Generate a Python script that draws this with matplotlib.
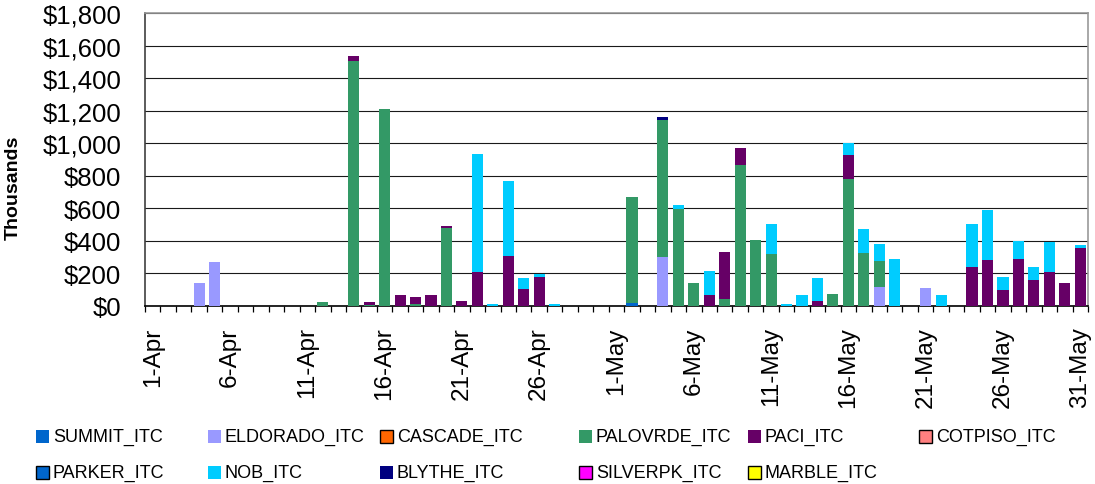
import numpy as np
import matplotlib
matplotlib.use("Agg")
import matplotlib.pyplot as plt
from matplotlib.patches import Rectangle

plt.rcParams['font.family'] = ['Liberation Sans', 'DejaVu Sans']

# Daily dates, 1-Apr through 31-May
apr = [f"{d}-Apr" for d in range(1, 31)]
may = [f"{d}-May" for d in range(1, 32)]
dates = apr + may
n = len(dates)


def series(entries):
    vals = [0.0] * n
    for label, v in entries.items():
        vals[dates.index(label)] = v
    return vals


# Values in thousands of dollars
summit = series({"2-May": 18})
eldorado = series({"4-Apr": 139, "5-Apr": 268, "4-May": 299, "18-May": 117,
                   "21-May": 105})
cascade = series({})
palovrde = series({"12-Apr": 20, "14-Apr": 1506, "15-Apr": 5, "16-Apr": 1211,
                   "18-Apr": 12, "20-Apr": 477, "2-May": 650, "4-May": 844,
                   "5-May": 593, "6-May": 136, "8-May": 37, "9-May": 866,
                   "10-May": 401, "11-May": 320, "15-May": 68, "16-May": 779,
                   "17-May": 321, "18-May": 155})
paci = series({"14-Apr": 31, "15-Apr": 15, "17-Apr": 65, "18-Apr": 40,
               "19-Apr": 65, "20-Apr": 13, "21-Apr": 25, "22-Apr": 206,
               "24-Apr": 305, "25-Apr": 100, "26-Apr": 173, "7-May": 62,
               "8-May": 290, "9-May": 104, "14-May": 25, "16-May": 147,
               "24-May": 235, "25-May": 280, "26-May": 93, "27-May": 284,
               "28-May": 155, "29-May": 204, "30-May": 136, "31-May": 357})
cotpiso = series({})
parker = series({})
nob = series({"22-Apr": 727, "23-Apr": 12, "24-Apr": 462, "25-Apr": 68,
              "26-Apr": 18, "27-Apr": 12, "5-May": 25, "7-May": 148,
              "11-May": 180, "12-May": 7, "13-May": 62, "14-May": 142,
              "16-May": 74, "17-May": 148, "18-May": 105, "19-May": 284,
              "22-May": 62, "24-May": 265, "25-May": 308, "26-May": 80,
              "27-May": 111, "28-May": 80, "29-May": 185, "31-May": 13})
blythe = series({"4-May": 17})
silverpk = series({})
marble = series({})

names = ["SUMMIT_ITC", "ELDORADO_ITC", "CASCADE_ITC", "PALOVRDE_ITC",
         "PACI_ITC", "COTPISO_ITC", "PARKER_ITC", "NOB_ITC", "BLYTHE_ITC",
         "SILVERPK_ITC", "MARBLE_ITC"]
data = [summit, eldorado, cascade, palovrde, paci, cotpiso, parker, nob,
        blythe, silverpk, marble]
colors = ["#0066CC", "#9999FF", "#FF6600", "#339966", "#660066", "#FF8080",
          "#0066CC", "#00CCFF", "#000080", "#FF00FF", "#FFFF00"]
boxed = [False, False, True, False, False, True, True, False, False, True, True]

W, H = 1095, 485
fig = plt.figure(figsize=(W / 100, H / 100), dpi=100)
ax = fig.add_axes([145 / W, (H - 306.5) / H, 943 / W, 292.2 / H])

x = np.arange(n)
bottom = np.zeros(n)
for vals, c in zip(data, colors):
    v = np.array(vals, dtype=float)
    ax.bar(x, v, width=0.72, bottom=bottom, color=c, linewidth=0, zorder=3)
    bottom += v

ax.set_xlim(-0.5, n - 0.5)
ax.set_ylim(0, 1800)
ax.set_yticks(np.arange(0, 1801, 200))
ax.set_yticklabels([f"${v:,.0f}" for v in np.arange(0, 1801, 200)])
ax.yaxis.grid(True, color="#1a1a1a", linewidth=0.8, zorder=0)
ax.set_axisbelow(True)

# Category labels every 5 days, tick marks between days
ax.set_xticks(np.arange(0, n, 5))
ax.set_xticklabels([dates[i] for i in range(0, n, 5)], rotation=90)
ax.set_xticks(np.arange(-0.5, n, 1), minor=True)
ax.tick_params(axis="x", which="major", length=0, pad=15, labelsize=17.5)
ax.tick_params(axis="x", which="minor", length=4, width=0.9, color="black",
               direction="out")
ax.tick_params(axis="y", length=0, pad=17, labelsize=18.5)

ax.spines["bottom"].set_color("black")
ax.spines["left"].set_color("#404040")
ax.spines["top"].set_color("#999999")
ax.spines["right"].set_color("#999999")
for s in ax.spines.values():
    s.set_linewidth(1.2)

ax.set_ylabel("Thousands", fontsize=14, fontweight="bold", va="center")
ax.yaxis.set_label_coords(-132 / 943, (306.5 - 187.5) / 292.2)

# Legend: two rows, six columns laid out below the axis
col_x = [36, 208, 380, 579, 748, 919]
row_y = [437, 473]
sq = 13
for k, (name, c, b) in enumerate(zip(names, colors, boxed)):
    r, col = divmod(k, 6)
    px, py = col_x[col], row_y[r]
    fig.add_artist(Rectangle((px / W, (H - py - sq / 2) / H), sq / W, sq / H,
                             transform=fig.transFigure, facecolor=c,
                             edgecolor="black" if b else c,
                             linewidth=1.0 if b else 0))
    fig.text((px + sq + 4) / W, (H - py) / H, name, fontsize=13,
             va="center", ha="left")

fig.savefig("out.png", dpi=100)
